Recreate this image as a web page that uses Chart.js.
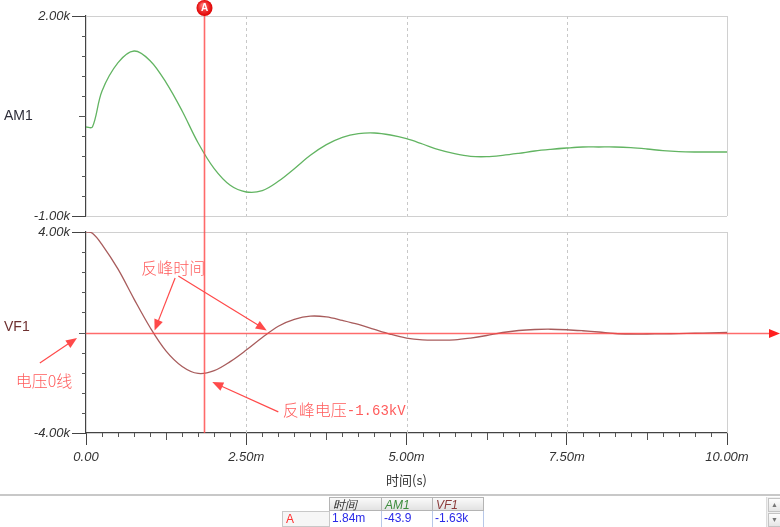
<!DOCTYPE html>
<html>
<head>
<meta charset="utf-8">
<script src="https://cdn.jsdelivr.net/npm/chart.js@4.4.1/dist/chart.umd.min.js"></script>
<style>
    body { margin: 0; background: #fff; }
    #wrap { position: relative; width: 780px; height: 527px; overflow: hidden; font-family: "Liberation Sans", Arial, sans-serif; }
    #scope { position: absolute; left: 0; top: 0; }
    #sep { position: absolute; left: 0; top: 494px; width: 780px; height: 2px; background: #c8c8c8; }
    .cell { position: absolute; box-sizing: border-box; font-size: 12px; line-height: 14px; padding-left: 3px; white-space: nowrap; }
    .head { top: 497px; height: 14px; background: linear-gradient(#fafafa, #e2e2e2); border: 1px solid #b4b4b4; font-style: italic; }
    .row { top: 511px; height: 16px; color: #2a2ae8; border-right: 1px solid #b8c8e8; }
    #scroll { position: absolute; left: 766px; top: 497px; width: 14px; height: 30px; background: #f0f0f0; border-left: 1px solid #dcdcdc; }
    .sbtn { position: absolute; left: 1px; width: 11px; height: 12px; background: linear-gradient(#fdfdfd, #e6e6e6); border: 1px solid #c4c4c4; font-size: 7px; line-height: 12px; text-align: center; color: #777; }
</style>
</head>
<body>
<div id="wrap">
    <canvas id="scope" width="780" height="527"></canvas>
    <div id="sep"></div>
    <div class="cell head" style="left:329px;width:53px;color:#333;">时间</div>
    <div class="cell head" style="left:381px;width:52px;color:#3c8c3c;">AM1</div>
    <div class="cell head" style="left:432px;width:52px;color:#8c3c3c;">VF1</div>
    <div class="cell" style="left:282px;top:511px;width:48px;height:16px;background:#f6f6f6;border:1px solid #c8c8c8;color:#ff3030;">A</div>
    <div class="cell row" style="left:329px;width:53px;">1.84m</div>
    <div class="cell row" style="left:381px;width:52px;">-43.9</div>
    <div class="cell row" style="left:432px;width:52px;">-1.63k</div>
    <div id="scroll">
        <div class="sbtn" style="top:1px;">▲</div>
        <div class="sbtn" style="top:16px;">▼</div>
    </div>
</div>
<script>
// time axis in ms
const timeMs = [0, 0.1, 0.25, 0.5, 0.75, 1, 1.25, 1.5, 1.75, 2, 2.25, 2.5, 2.75, 3, 3.25, 3.5, 3.75, 4,
    4.25, 4.5, 4.75, 5, 5.25, 5.5, 5.75, 6, 6.25, 6.5, 6.75, 7, 7.25, 7.5, 7.75, 8, 8.25, 8.5, 8.75,
    9, 9.25, 9.5, 9.75, 10];
const am1 = [335, 335, 875, 1300, 1475, 1330, 1000, 575, 95, -290, -540, -640, -620, -480, -290, -90, 70, 180,
    235, 245, 215, 160, 80, -5, -65, -105, -110, -90, -60, -25, 0, 20, 35, 35, 35, 25, 5,
    -20, -35, -40, -40, -40];
const vf1 = [4000, 3950, 3500, 2520, 1330, 200, -740, -1350, -1630, -1520, -1160, -700, -200, 250, 520, 650, 620, 480,
    320, 120, -70, -220, -290, -300, -290, -220, -120, 0, 80, 120, 130, 110, 70, 20, -40, -60, -60,
    -55, -45, -30, -15, 0];

const xTicks = [0, 2.5, 5, 7.5, 10];
const xTickLabels = ['0.00', '2.50m', '5.00m', '7.50m', '10.00m'];
const am1Range = [-1000, 2000];
const am1Labels = ['-1.00k', '2.00k'];
const vf1Range = [-4000, 4000];
const vf1Labels = ['-4.00k', '4.00k'];
const cursorMs = 1.84;

const GREEN = '#62b462';
const BROWN = '#a85c5c';
const RED = '#ff4a4a';
const NOTE = '#ff5c5c';

function line(ctx, x1, y1, x2, y2) {
    ctx.beginPath();
    ctx.moveTo(x1, y1);
    ctx.lineTo(x2, y2);
    ctx.stroke();
}

function arrow(ctx, x1, y1, x2, y2) {
    const a = Math.atan2(y2 - y1, x2 - x1);
    line(ctx, x1, y1, x2 - 6 * Math.cos(a), y2 - 6 * Math.sin(a));
    ctx.beginPath();
    ctx.moveTo(x2, y2);
    ctx.lineTo(x2 - 11 * Math.cos(a) + 4.5 * Math.sin(a), y2 - 11 * Math.sin(a) - 4.5 * Math.cos(a));
    ctx.lineTo(x2 - 11 * Math.cos(a) - 4.5 * Math.sin(a), y2 - 11 * Math.sin(a) + 4.5 * Math.cos(a));
    ctx.closePath();
    ctx.fill();
}

// frames, dashed grid, minor ticks
const frames = {
    id: 'frames',
    beforeDatasetsDraw(chart) {
        const { ctx, scales: { x, yA, yV } } = chart;
        ctx.save();
        ctx.lineWidth = 1;
        [yA, yV].forEach(s => {
            ctx.strokeStyle = '#d0d0d0';
            line(ctx, x.left, s.top + 0.5, x.right, s.top + 0.5);
            line(ctx, x.right + 0.5, s.top, x.right + 0.5, s.bottom);
            if (s === yA) line(ctx, x.left, s.bottom + 0.5, x.right, s.bottom + 0.5);
            ctx.setLineDash([3, 3]);
            ctx.strokeStyle = '#c8c8c8';
            xTicks.slice(1, -1).forEach(t => {
                const px = Math.round(x.getPixelForValue(t)) + 0.5;
                line(ctx, px, s.top, px, s.bottom);
            });
            ctx.setLineDash([]);
            // minor y ticks
            ctx.strokeStyle = '#555';
            const step = (s.max - s.min) / 10;
            for (let i = 1; i < 10; i++) {
                const py = Math.round(s.getPixelForValue(s.min + i * step)) + 0.5;
                line(ctx, x.left - (i === 5 ? 7 : 4), py, x.left, py);
            }
        });
        // minor x ticks
        ctx.strokeStyle = '#555';
        for (let i = 1; i < 40; i++) {
            if (i % 10 === 0) continue;
            const px = Math.round(x.getPixelForValue(i * 0.25)) + 0.5;
            line(ctx, px, yV.bottom, px, yV.bottom + (i % 5 === 0 ? 7 : 4));
        }
        // trace names
        ctx.font = '14px "Liberation Sans", Arial, sans-serif';
        ctx.textBaseline = 'middle';
        ctx.fillStyle = '#2c2c38';
        ctx.fillText('AM1', 4, (yA.top + yA.bottom) / 2);
        ctx.fillStyle = '#6e3030';
        ctx.fillText('VF1', 4, (yV.top + yV.bottom) / 2 - 5);
        ctx.restore();
    }
};

// cursor, zero line and notes
const notes = {
    id: 'notes',
    afterDatasetsDraw(chart) {
        const { ctx, scales: { x, yA, yV } } = chart;
        const P = (t, v) => [x.getPixelForValue(t), yV.getPixelForValue(v)];
        ctx.save();

        // zero line of VF1
        const zy = Math.round(yV.getPixelForValue(0)) + 0.5;
        ctx.strokeStyle = 'rgba(255, 70, 70, 0.8)';
        ctx.fillStyle = '#ff2020';
        ctx.lineWidth = 1.5;
        arrow(ctx, x.left, zy, chart.width, zy);

        // cursor A
        const cx = Math.round(x.getPixelForValue(cursorMs)) + 0.5;
        ctx.strokeStyle = 'rgba(255, 80, 80, 0.85)';
        ctx.lineWidth = 1.6;
        line(ctx, cx, yA.top - 2, cx, yV.bottom);
        const g = ctx.createRadialGradient(cx - 2, yA.top - 11, 1, cx, yA.top - 8, 8);
        g.addColorStop(0, '#ff7070');
        g.addColorStop(1, '#e00000');
        ctx.fillStyle = g;
        ctx.beginPath();
        ctx.arc(cx, yA.top - 8, 8, 0, Math.PI * 2);
        ctx.fill();
        ctx.fillStyle = '#fff';
        ctx.font = 'bold 10px "Liberation Sans", Arial, sans-serif';
        ctx.textAlign = 'center';
        ctx.textBaseline = 'middle';
        ctx.fillText('A', cx, yA.top - 7.5);

        // annotations
        ctx.strokeStyle = RED;
        ctx.fillStyle = RED;
        ctx.lineWidth = 1.2;
        arrow(ctx, ...P(1.39, 2170), ...P(1.07, 80));
        arrow(ctx, ...P(1.44, 2250), ...P(2.82, 80));
        arrow(ctx, ...P(-0.72, -1210), ...P(-0.14, -220));
        arrow(ctx, ...P(3.0, -3160), ...P(1.97, -1970));

        ctx.fillStyle = NOTE;
        ctx.textBaseline = 'middle';
        ctx.font = '300 16px "Noto Sans CJK SC", sans-serif';
        ctx.textAlign = 'center';
        ctx.fillText('反峰时间', ...P(1.36, 2570));
        ctx.fillText('电压0线', ...P(-0.655, -1930));
        ctx.textAlign = 'left';
        const [tx, ty] = P(3.07, -3080);
        ctx.fillText('反峰电压', tx, ty);
        const w = ctx.measureText('反峰电压').width;
        ctx.font = '14px "Liberation Mono", monospace';
        ctx.fillText('-1.63kV', tx + w, ty + 1);
        ctx.restore();
    }
};

const tickFont = { family: '"Liberation Sans", Arial, sans-serif', size: 13, style: 'italic' };

function yScale(range, labels, weight, stackWeight) {
    return {
        type: 'linear',
        position: 'left',
        stack: 'panels',
        stackWeight,
        weight,
        min: range[0],
        max: range[1],
        afterBuildTicks: s => { s.ticks = range.map(v => ({ value: v })); },
        afterFit: s => { s.width = 86; },
        ticks: {
            color: '#333',
            font: tickFont,
            padding: 2,
            callback: v => labels[range.indexOf(v)]
        },
        grid: { drawOnChartArea: false, tickLength: 14, tickColor: '#444' },
        border: { color: '#444', width: 1.2 }
    };
}

new Chart(document.getElementById('scope'), {
    type: 'line',
    data: {
        datasets: [
            {
                label: 'AM1',
                data: timeMs.map((t, i) => ({ x: t, y: am1[i] })),
                yAxisID: 'yA',
                borderColor: GREEN,
                borderWidth: 1.3,
                pointRadius: 0,
                tension: 0.35
            },
            {
                label: 'VF1',
                data: timeMs.map((t, i) => ({ x: t, y: vf1[i] })),
                yAxisID: 'yV',
                borderColor: BROWN,
                borderWidth: 1.3,
                pointRadius: 0,
                tension: 0.35
            }
        ]
    },
    options: {
        responsive: false,
        animation: false,
        devicePixelRatio: 1,
        layout: { padding: { left: 0, right: 53, top: 16, bottom: 0 } },
        plugins: { legend: { display: false }, tooltip: { enabled: false } },
        scales: {
            x: {
                type: 'linear',
                min: 0,
                max: 10,
                afterBuildTicks: s => { s.ticks = xTicks.map(v => ({ value: v })); },
                afterFit: s => { s.height = 94; },
                ticks: {
                    color: '#333',
                    font: tickFont,
                    padding: 5,
                    maxRotation: 0,
                    callback: v => xTickLabels[xTicks.indexOf(v)]
                },
                grid: { drawOnChartArea: false, tickLength: 12, tickColor: '#444' },
                border: { color: '#444', width: 1.2 },
                title: {
                    display: true,
                    text: '时间(s)',
                    color: '#333',
                    font: { family: '"Noto Sans CJK SC", sans-serif', size: 13 },
                    padding: { top: 0, bottom: 39 }
                }
            },
            yA: yScale(am1Range, am1Labels, 3, 200),
            yGap: {
                type: 'linear',
                position: 'left',
                stack: 'panels',
                stackWeight: 16,
                weight: 2,
                min: 0,
                max: 1,
                afterFit: s => { s.width = 86; },
                ticks: { display: false },
                grid: { display: false },
                border: { display: false }
            },
            yV: yScale(vf1Range, vf1Labels, 1, 201)
        }
    },
    plugins: [frames, notes]
});
</script>
</body>
</html>
